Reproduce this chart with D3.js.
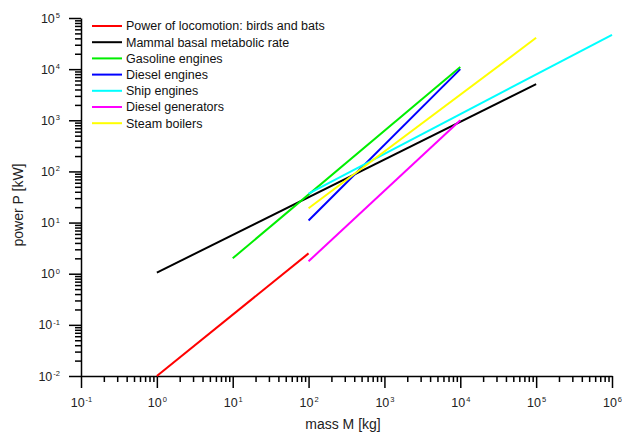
<!DOCTYPE html>
<html>
<head>
<meta charset="utf-8">
<script src="https://cdn.jsdelivr.net/npm/d3@7"></script>
<style>
  body { margin: 0; background: #fff; }
  svg { font-family: "Liberation Sans", Arial, sans-serif; }
  .axis path, .axis line { stroke: #000; stroke-width: 1.5; }
  .axis text { fill: #222; font-size: 12.5px; }
</style>
</head>
<body>
<div id="chart"></div>
<script>
// series: [mass kg, power kW] at each end of the lines
const seriesNames = [
  "Power of locomotion: birds and bats",
  "Mammal basal metabolic rate",
  "Gasoline engines",
  "Diesel engines",
  "Ship engines",
  "Diesel generators",
  "Steam boilers",
];
const birdsBats = [[1, 0.01], [100, 2.5]];
const mammalBasal = [[1, 1.05], [1e5, 5100]];
const gasolineEngines = [[10, 2], [1e4, 11000]];
const dieselEngines = [[100, 11], [1e4, 10000]];
const shipEngines = [[100, 37], [1e6, 47000]];
const dieselGenerators = [[100, 1.75], [1e4, 1000]];
const steamBoilers = [[100, 19], [1e5, 41000]];

const xMajorExp = [-1, 0, 1, 2, 3, 4, 5, 6];
const yMajorExp = [-2, -1, 0, 1, 2, 3, 4, 5];

const seriesData = [birdsBats, mammalBasal, gasolineEngines, dieselEngines,
  shipEngines, dieselGenerators, steamBoilers];
const seriesColors = ["#ff0000", "#000000", "#00ee00", "#0000ff", "#00ffff", "#ff00ff", "#ffff00"];

var width = 622, height = 437;
var svg = d3.select("#chart").append("svg")
  .attr("width", width)
  .attr("height", height);

var x = d3.scaleLog().domain([0.1, 1e6]).range([81, 612]);
var y = d3.scaleLog().domain([0.01, 1e5]).range([376, 18]);

function minorTicks(exps) {
  var out = [];
  for (var i = 0; i < exps.length - 1; i++) {
    for (var k = 2; k <= 9; k++) out.push(k * Math.pow(10, exps[i]));
  }
  return out;
}

// minor ticks first
svg.append("g").attr("class", "axis")
  .attr("transform", "translate(0,376)")
  .call(d3.axisBottom(x).tickValues(minorTicks(xMajorExp)).tickSize(6).tickFormat(""))
  .select(".domain").remove();
svg.append("g").attr("class", "axis")
  .attr("transform", "translate(81,0)")
  .call(d3.axisLeft(y).tickValues(minorTicks(yMajorExp)).tickSize(6).tickFormat(""))
  .select(".domain").remove();

// major ticks with power-of-ten labels
var xAxis = svg.append("g").attr("class", "axis")
  .attr("transform", "translate(0,376)")
  .call(d3.axisBottom(x)
    .tickValues(xMajorExp.map(function (e) { return Math.pow(10, e); }))
    .tickSize(12).tickSizeOuter(0).tickPadding(10));
var yAxis = svg.append("g").attr("class", "axis")
  .attr("transform", "translate(81,0)")
  .call(d3.axisLeft(y)
    .tickValues(yMajorExp.map(function (e) { return Math.pow(10, e); }))
    .tickSize(12).tickSizeOuter(0).tickPadding(9));

function powerLabel(sel) {
  sel.each(function (d) {
    var t = d3.select(this);
    var e = Math.round(Math.log10(d));
    t.text(null);
    t.append("tspan").text("10");
    t.append("tspan").text(e < 0 ? "-" + (-e) : String(e))
      .attr("font-size", "7.5px")
      .attr("dx", "1")
      .attr("dy", "-0.6em");
  });
}
xAxis.selectAll(".tick text").call(powerLabel);
yAxis.selectAll(".tick text").call(powerLabel);

// axis titles
svg.append("text")
  .attr("x", 343).attr("y", 429)
  .attr("text-anchor", "middle")
  .attr("font-size", "14px")
  .attr("fill", "#222")
  .text("mass M [kg]");
svg.append("text")
  .attr("transform", "translate(23,205) rotate(-90)")
  .attr("text-anchor", "middle")
  .attr("font-size", "14px")
  .attr("fill", "#222")
  .text("power P [kW]");

// lines
var line = d3.line()
  .x(function (d) { return x(d[0]); })
  .y(function (d) { return y(d[1]); });

for (var i = 0; i < seriesData.length; i++) {
  svg.append("path")
    .datum(seriesData[i])
    .attr("d", line)
    .attr("fill", "none")
    .attr("stroke", seriesColors[i])
    .attr("stroke-width", 2);
}

// legend
var legend = svg.append("g").attr("transform", "translate(92,26)");
seriesNames.forEach(function (name, i) {
  var row = legend.append("g").attr("transform", "translate(0," + (i * 16.2) + ")");
  row.append("line")
    .attr("x1", 0).attr("x2", 30)
    .attr("stroke", seriesColors[i])
    .attr("stroke-width", 2);
  row.append("text")
    .attr("x", 34).attr("dy", "0.35em")
    .attr("font-size", "12.5px")
    .attr("fill", "#111")
    .text(name);
});
</script>
</body>
</html>
